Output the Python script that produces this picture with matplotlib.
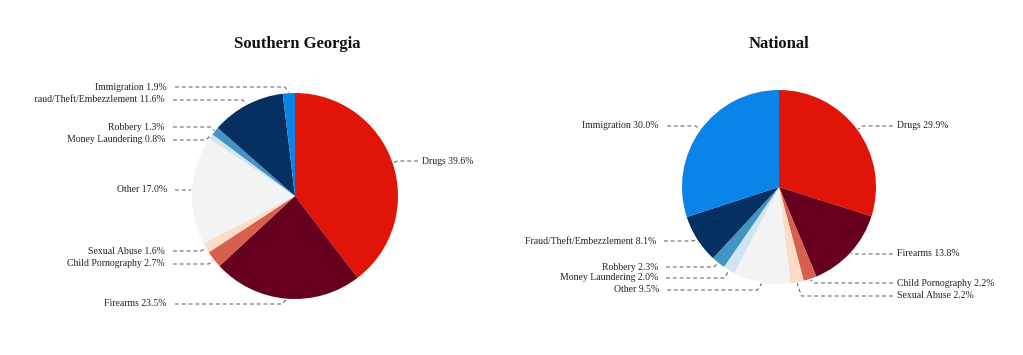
import matplotlib.pyplot as plt
from matplotlib.patches import Rectangle
import numpy as np

plt.rcParams["font.family"] = ["Liberation Serif", "DejaVu Serif"]

# slice order, clockwise from 12 o'clock
categories = [
    "Drugs",
    "Firearms",
    "Child Pornography",
    "Sexual Abuse",
    "Other",
    "Money Laundering",
    "Robbery",
    "Fraud/Theft/Embezzlement",
    "Immigration",
]
colors = [
    "#e11408",
    "#67001f",
    "#d6604d",
    "#fddbc7",
    "#f3f3f3",
    "#d1e5f0",
    "#4393c3",
    "#053061",
    "#0a84e8",
]
georgia_values = [39.6, 23.5, 2.7, 1.6, 17.0, 0.8, 1.3, 11.6, 1.9]
national_values = [29.9, 13.8, 2.2, 2.2, 9.5, 2.0, 2.3, 8.1, 30.0]

W, H = 1023, 355

# label anchor positions in pixels (x of text edge, y from top), side
georgia_labels = [
    (422, 161, "r"),
    (167, 304, "l"),
    (165, 264, "l"),
    (165, 251, "l"),
    (167, 190, "l"),
    (165, 140, "l"),
    (165, 127, "l"),
    (165, 100, "l"),
    (167, 87, "l"),
]
national_labels = [
    (897, 126, "r"),
    (897, 254, "r"),
    (897, 283, "r"),
    (897, 296, "r"),
    (659, 290, "l"),
    (658, 278, "l"),
    (658, 267, "l"),
    (656, 241, "l"),
    (659, 126, "l"),
]


def draw_pie(ax, values, title, cx, cy, r, label_pos, title_x, clip):
    cy = H - cy
    wedges, _ = ax.pie(
        values,
        colors=colors,
        startangle=90,
        counterclock=False,
        center=(cx, cy),
        radius=r,
        wedgeprops=dict(linewidth=0),
    )
    for w, name, val, (lx, ly, side) in zip(wedges, categories, values, label_pos):
        ang = np.deg2rad((w.theta1 + w.theta2) / 2)
        ex = cx + r * 1.01 * np.cos(ang)
        ey = cy + r * 1.01 * np.sin(ang)
        ly = H - ly
        if side == "l":
            t = ax.text(lx, ly, f"{name} {val:.1f}%", ha="right", va="center",
                        fontsize=7, color="#222222")
            xs = [lx + 8, ex - 4, ex]
        else:
            t = ax.text(lx, ly, f"{name} {val:.1f}%", ha="left", va="center",
                        fontsize=7, color="#222222")
            xs = [lx - 4, ex + 4, ex]
        t.set_clip_on(True)
        t.set_clip_path(clip)
        ax.plot(xs, [ly, ly, ey], color="#555555", lw=0.7, dashes=(4, 3))
    ax.text(title_x, H - 44, title, ha="center", va="center",
            fontsize=12, fontweight="bold", color="#111111")


fig = plt.figure(figsize=(W / 100, H / 100), dpi=100)
ax = fig.add_axes([0, 0, 1, 1])

# left panel is cut off at its left edge, like the source image
left_clip = Rectangle((35, 0), 480, H, transform=ax.transData)
right_clip = Rectangle((510, 0), 513, H, transform=ax.transData)
draw_pie(ax, georgia_values, "Southern Georgia", 295, 196, 103, georgia_labels, 297, left_clip)
draw_pie(ax, national_values, "National", 779, 187, 97, national_labels, 779, right_clip)

# pie() resets the limits, so set them afterwards
ax.set_xlim(0, W)
ax.set_ylim(0, H)
ax.set_aspect("equal")
ax.axis("off")

plt.savefig("out.png", dpi=100)
plt.close()
